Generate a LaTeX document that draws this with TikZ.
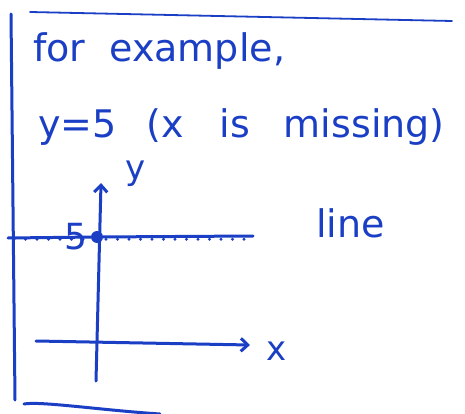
\documentclass[tikz,border=0pt]{standalone}
\usepackage{fontspec}
\setmainfont{DejaVu Sans}
\usepackage{xcolor}
\definecolor{inkblue}{HTML}{1A3FC4}
\usepackage{tikz}
\usetikzlibrary{arrows.meta, positioning}
\tikzset{
  hand/.style={font=\fontsize{38}{40}\selectfont, text=inkblue, inner sep=0pt},
  pen/.style={inkblue, line width=3pt, line cap=round, line join=round},
  thinpen/.style={inkblue, line width=1.8pt, line cap=round},
  axisarrow/.style={pen, -{Straight Barb[length=7pt, width=13pt, line width=3pt]}},
}

\begin{document}
\begin{tikzpicture}[x=1pt, y=-1pt]
  \useasboundingbox (0,0) rectangle (465,414);

  % page frame (open bracket)
  \coordinate (frametl) at (30,12);
  \coordinate (frametr) at (452,21);
  \coordinate (framelt) at (11,14);
  \coordinate (framelb) at (15,400);
  \coordinate (framebl) at (24,404);
  \coordinate (framebr) at (160,414);
  \draw[thinpen] (frametl) -- (frametr);
  \draw[pen] (framelt) -- (framelb);
  \draw[pen] (framebl) .. controls (40,401) and (100,410) .. (framebr);

  % text lines
  \node[hand, anchor=base west] (title) at (33,62) {for\hspace{24pt}example,};
  \node[hand, anchor=base west] (eqn) at (38,138) {y=5};
  \node[hand, anchor=base west] (note) at (146,138)
    {(x\hspace{36pt}is\hspace{34pt}missing)};

  % axes
  \coordinate (ybot) at (96,381);
  \coordinate (ytop) at (101,183);
  \coordinate (xleft) at (36,341);
  \coordinate (xright) at (250,345);
  \draw[axisarrow] (ybot) -- (ytop);
  \draw[axisarrow] (xleft) -- (xright);
  \node[hand, font=\fontsize{34}{36}\selectfont] (lbly) at (136,174) {y};
  \node[hand, font=\fontsize{34}{36}\selectfont] (lblx) at (277,351) {x};

  % the line y=5
  \coordinate (lineL) at (8,238);
  \coordinate (lineR) at (253,236);
  \node[circle, fill=inkblue, inner sep=0pt, minimum size=12pt] (pt) at (97,237) {};
  \draw[pen] (lineL) -- (pt) -- (lineR);
  \foreach \i in {0,...,20} {
    \fill[inkblue] (14+\i*11.5,239.3) circle (1.6pt);
  }
  \node[hand, font=\fontsize{36}{38}\selectfont] (lblfive) at (76,237) {5};
  \node[hand, anchor=base west] (lblline) at (316,237) {line};
\end{tikzpicture}
\end{document}
